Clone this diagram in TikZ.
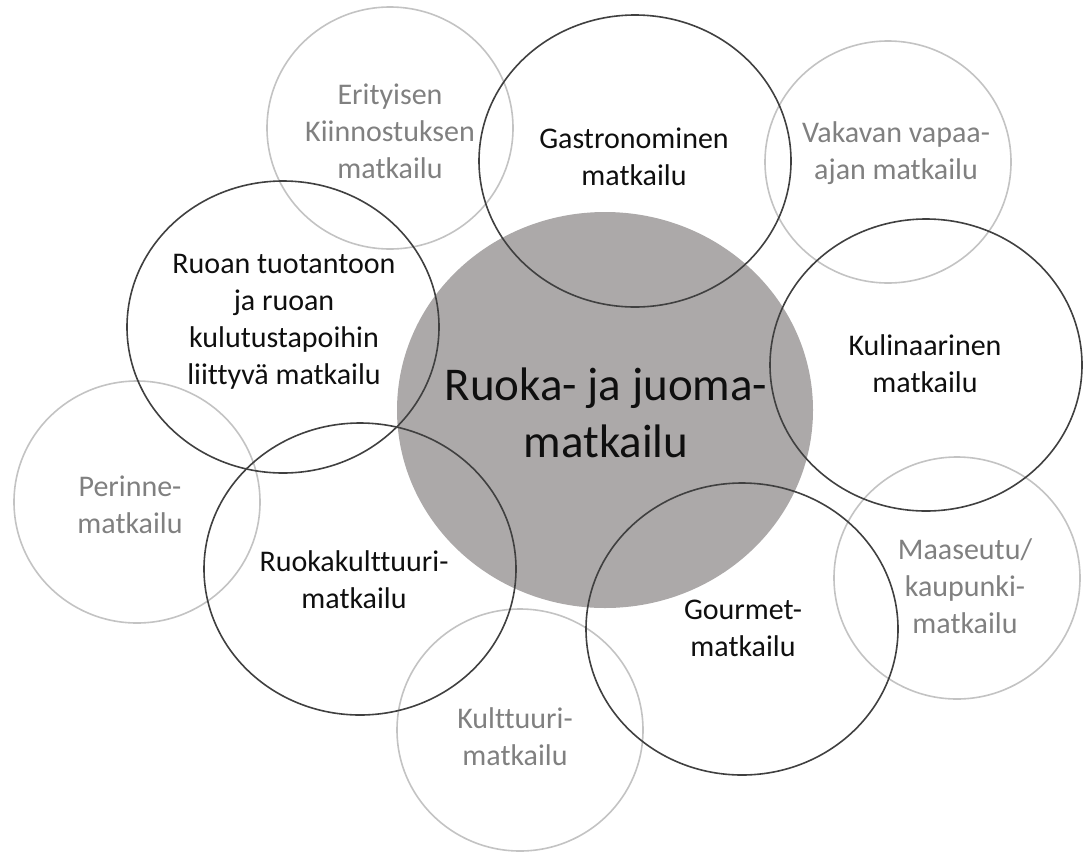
\documentclass[tikz,border=0pt]{standalone}
\usepackage{fontspec}
\setmainfont{Carlito}[Ligatures=NoCommon]
\usetikzlibrary{shapes.geometric}
\definecolor{hubgray}{RGB}{172,169,169}
\definecolor{ringdark}{RGB}{64,64,64}
\definecolor{ringlight}{RGB}{195,195,195}
\definecolor{textlight}{RGB}{128,128,128}
\definecolor{textdark}{RGB}{15,15,15}
\begin{document}
\begin{tikzpicture}[x=1pt,y=-1pt]
  \tikzstyle{hub}=[ellipse,fill=hubgray,minimum width=416pt,minimum height=396pt,inner sep=0pt]
  \tikzstyle{ring}=[ellipse,draw=ringdark,line width=1.6pt,minimum width=312pt,minimum height=292pt]
  \tikzstyle{faint}=[ellipse,draw=ringlight,line width=1.6pt,minimum width=246pt,minimum height=242pt]
  \tikzstyle{lbl}=[align=center,inner sep=0pt,text=textdark,font=\fontsize{30}{37}\selectfont]
  \tikzstyle{flbl}=[lbl,text=textlight]
  \useasboundingbox (0,0) rectangle (1083,852);
  % centre
  \node[hub] (hub) at (605,410) {};
  \node[lbl,font=\fontsize{47}{57}\selectfont] (hub-t) at (606,413) {Ruoka- ja juoma-\\matkailu};
  % light rings
  \node[faint] (erit) at (390,128) {};
  \node[faint] (vakav) at (888,162) {};
  \node[faint] (perinne) at (137,502) {};
  \node[faint] (kulttuuri) at (520,730) {};
  \node[faint] (maaseutu) at (957,578) {};
  % dark rings
  \node[ring] (gastro) at (635,161) {};
  \node[ring] (ruoan) at (283,327) {};
  \node[ring] (kulin) at (926,365) {};
  \node[ring] (ruokak) at (360,569) {};
  \node[ring] (gourmet) at (742,629) {};
  % labels
  \node[flbl] (erit-t) at (390,131) {Erityisen\\Kiinnostuksen\\matkailu};
  \node[flbl] (vakav-t) at (896,153) {Vakavan vapaa-\\ajan matkailu};
  \node[flbl] (perinne-t) at (130,505) {Perinne-\\matkailu};
  \node[flbl] (kulttuuri-t) at (515,737) {Kulttuuri-\\matkailu};
  \node[flbl] (maaseutu-t) at (965,586) {Maaseutu/\\kaupunki-\\matkailu};
  \node[lbl] (gastro-t) at (634,157) {Gastronominen\\matkailu};
  \node[lbl] (ruoan-t) at (284,322) {Ruoan tuotantoon\\ja ruoan\\kulutustapoihin\\liittyvä matkailu};
  \node[lbl] (kulin-t) at (925,364) {Kulinaarinen\\matkailu};
  \node[lbl] (ruokak-t) at (354,580) {Ruokakulttuuri-\\matkailu};
  \node[lbl] (gourmet-t) at (743,628) {Gourmet-\\matkailu};
\end{tikzpicture}
\end{document}
